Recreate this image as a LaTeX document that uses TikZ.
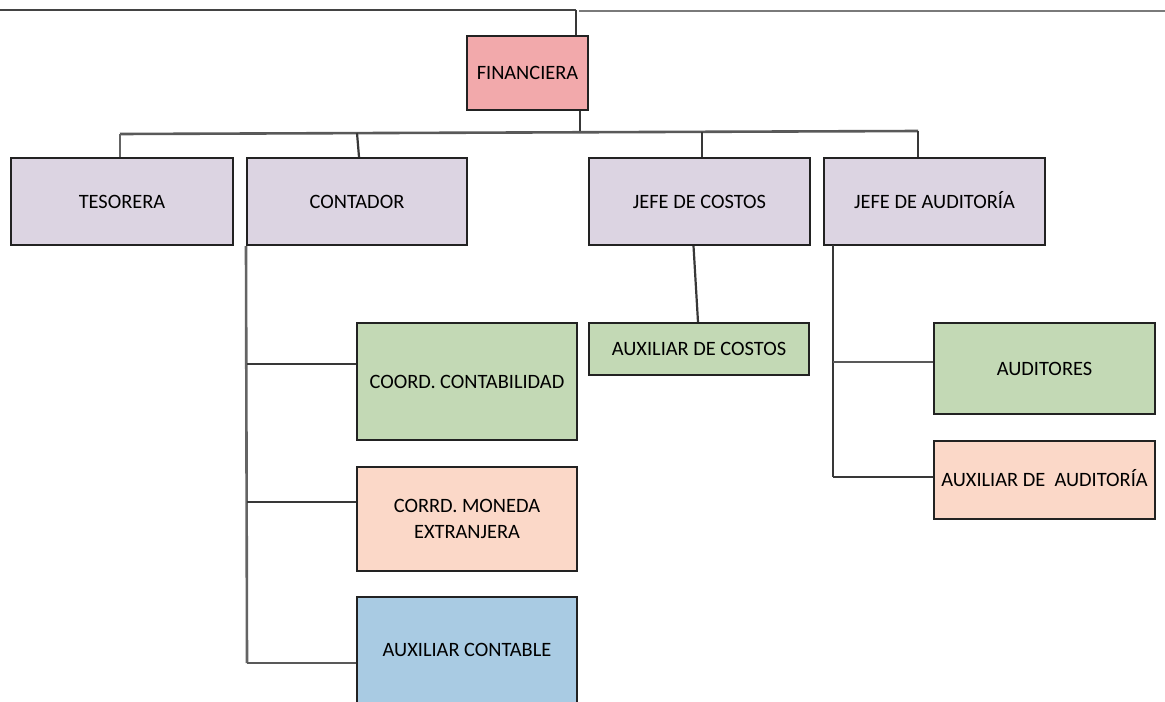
\documentclass[tikz,border=0pt]{standalone}
\usepackage{fontspec}
\setmainfont{Carlito}
\usetikzlibrary{calc}
\definecolor{finpink}{HTML}{F2A9AB}
\definecolor{lav}{HTML}{DCD4E2}
\definecolor{sage}{HTML}{C3D9B5}
\definecolor{peach}{HTML}{FBD8C8}
\definecolor{sky}{HTML}{A9CBE3}
\definecolor{ink}{HTML}{222222}
\tikzset{
  orgbox/.style={draw=ink, line width=1pt, inner sep=0pt, align=center,
    text=black, font=\fontsize{10.2}{13}\selectfont},
  link/.style={draw=ink!90, line width=1.1pt},
  toprule/.style={draw=ink!85, line width=1.4pt},
}
\begin{document}
\begin{tikzpicture}[x=0.5pt, y=-0.5pt]
\clip (0,0) rectangle (1165,701);
\fill[white] (0,0) rectangle (1165,701);

% head of the chart
\node[orgbox, fill=finpink, minimum width=60.5pt, minimum height=37pt] (fin) at (527.5,73) {FINANCIERA};

% second level
\node[orgbox, fill=lav, minimum width=111pt, minimum height=43.5pt] (tes) at (122,201.5) {TESORERA};
\node[orgbox, fill=lav, minimum width=110pt, minimum height=43.5pt] (con) at (357,201.5) {CONTADOR};
\node[orgbox, fill=lav, minimum width=110.5pt, minimum height=43.5pt] (cos) at (699.5,201.5) {JEFE DE COSTOS};
\node[orgbox, fill=lav, minimum width=110.5pt, minimum height=43.5pt] (aud) at (934.5,201.5) {JEFE DE AUDITOR\smash{Í}A};

% under the accountant
\node[orgbox, fill=sage, minimum width=110pt, minimum height=58.5pt] (coord) at (467,381.5) {COORD. CONTABILIDAD};
\node[orgbox, fill=peach, minimum width=110pt, minimum height=52pt] (mon) at (467,519) {CORRD. MONEDA\\EXTRANJERA};
\node[orgbox, fill=sky, minimum width=110pt, minimum height=53pt] (auxc) at (467,650) {AUXILIAR CONTABLE};

% under costs
\node[orgbox, fill=sage, minimum width=110pt, minimum height=26pt] (auxcos) at (699,349) {AUXILIAR DE COSTOS};

% under audit
\node[orgbox, fill=sage, minimum width=110.5pt, minimum height=45.5pt] (auditores) at (1044.5,368.5) {AUDITORES};
\node[orgbox, fill=peach, minimum width=110.5pt, minimum height=39pt] (auxaud) at (1044.5,480) {AUXILIAR DE\ \ AUDITOR\smash{Í}A};

% top rule and its drop to the head
\coordinate (tl) at (0,10);
\coordinate (tj) at (576,10);
\coordinate (tr) at (1165,11);
\draw[toprule] (tl) -- (tj);
\draw[toprule, draw=ink!60] ($(tj)+(3,1)$) -- (tr);
\draw[link] (tj) -- (tj |- fin.north);

% bus to the second level
\coordinate (bj) at (580,133);
\coordinate (b1) at (120,134);
\coordinate (b2) at (357,133);
\coordinate (b3) at (702,132);
\coordinate (b4) at (918,131);
\draw[link] (fin.south -| bj) -- (bj);
\draw[link, draw=ink!75, line width=1.3pt] (b1) -- (b4);
\draw[link, draw=ink!70] (b1) -- (b1 |- tes.north);
\draw[link] (b2) -- ($(b2 |- con.north)+(2,0)$);
\draw[link] (b3) -- (b3 |- cos.north);
\draw[link] (b4) -- (b4 |- aud.north);

% accountant's branch
\coordinate (c1) at (247,364);
\coordinate (c2) at (247,502);
\coordinate (c3) at (247,663);
\draw[link, draw=ink!70, line width=1.3pt] (con.south west) -- (c3);
\draw[link] (c1) -- (c1 -| coord.west);
\draw[link] (c2) -- (c2 -| mon.west);
\draw[link, draw=ink!75] (c3) -- (c3 -| auxc.west);

% costs branch
\draw[link] ($(cos.south)+(-6,0)$) -- ($(auxcos.north)+(-1,0)$);

% audit branch
\coordinate (a0) at (833,245);
\coordinate (a1) at (833,362);
\coordinate (a2) at (833,477);
\draw[link] (a0) -- (a2);
\draw[link, draw=ink!75] (a1) -- (a1 -| auditores.west);
\draw[link] (a2) -- (a2 -| auxaud.west);
\end{tikzpicture}
\end{document}
